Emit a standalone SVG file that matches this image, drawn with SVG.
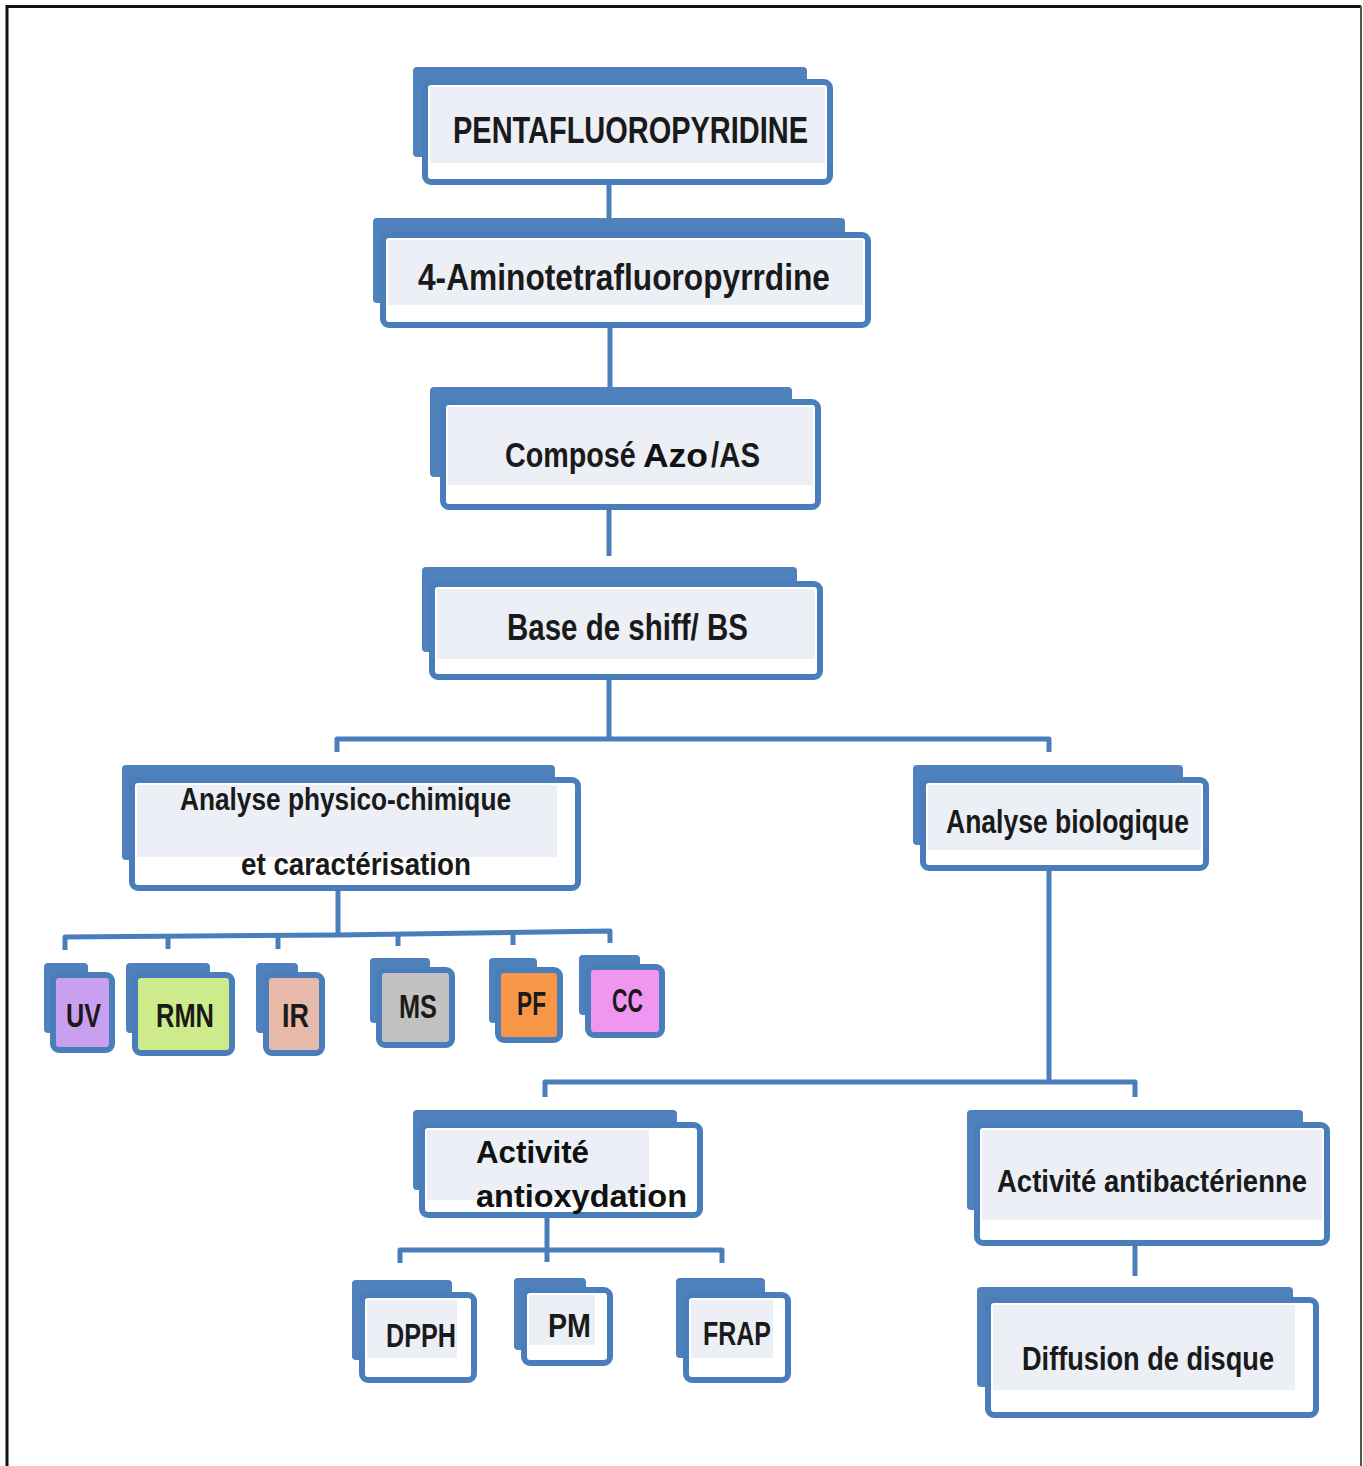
<svg xmlns="http://www.w3.org/2000/svg" width="1363" height="1466" viewBox="0 0 1363 1466">
  <style>
    .back { fill: #4f81bd; }
    .front { fill: #ffffff; stroke: #4a7ebb; stroke-width: 6; }
    .band { fill: #eceff5; }
    .lbl { font-family: "Liberation Sans Narrow", "Liberation Sans", Arial, sans-serif; font-weight: bold; fill: #1a1a1a; }
    .arial { font-family: "Liberation Sans", Arial, sans-serif; font-weight: bold; fill: #111111; }
    .conn { fill: none; stroke: #4a7ebb; stroke-width: 5; stroke-linejoin: round; }
    .frame { fill: none; stroke: #111111; stroke-width: 3; }
  </style>

  <rect width="1363" height="1466" fill="#ffffff"/>
  <!-- outer frame (open at the bottom) -->
  <path class="frame" d="M7,1466 V6.5 H1361"/>
  <line x1="1361" y1="6" x2="1361" y2="1466" stroke="#555555" stroke-width="2"/>

  <!-- connectors -->
  <g id="connectors" class="conn">
    <line x1="609" y1="182" x2="609" y2="220"/>
    <line x1="610" y1="325" x2="610" y2="389"/>
    <line x1="609" y1="508" x2="609" y2="556"/>
    <line x1="609" y1="677" x2="609" y2="739"/>
    <path d="M337,752 V739 H1049 V752"/>
    <line x1="338" y1="888" x2="338" y2="936"/>
    <path d="M65,950 V937 L338,935 L610,931 V943"/>
    <line x1="168" y1="936" x2="168" y2="949"/>
    <line x1="278" y1="936" x2="278" y2="949"/>
    <line x1="398" y1="934" x2="398" y2="946"/>
    <line x1="513" y1="932" x2="513" y2="945"/>
    <line x1="1049" y1="868" x2="1049" y2="1082"/>
    <path d="M545,1097 V1082 H1135 V1097"/>
    <line x1="547" y1="1215" x2="547" y2="1250"/>
    <path d="M400,1263 V1250 H722 V1263"/>
    <line x1="547" y1="1250" x2="547" y2="1262"/>
    <line x1="1135" y1="1243" x2="1135" y2="1276"/>
  </g>

  <g id="pentafluoropyridine">
    <rect class="back" x="413" y="67" width="394" height="90" rx="4"/>
    <rect class="front" x="425" y="82" width="405" height="100" rx="6"/>
    <rect class="band" x="430" y="87" width="395" height="76"/>
    <text class="lbl" x="453" y="143" font-size="36" textLength="355" lengthAdjust="spacingAndGlyphs">PENTAFLUOROPYRIDINE</text>
  </g>

  <g id="aminotetrafluoropyridine">
    <rect class="back" x="373" y="218" width="472" height="85" rx="4"/>
    <rect class="front" x="383" y="235" width="485" height="90" rx="6"/>
    <rect class="band" x="388" y="240" width="475" height="65"/>
    <text class="lbl" x="418" y="290" font-size="36" textLength="412" lengthAdjust="spacingAndGlyphs">4-Aminotetrafluoropyrrdine</text>
  </g>

  <g id="compose-azo">
    <rect class="back" x="430" y="387" width="362" height="90" rx="4"/>
    <rect class="front" x="443" y="402" width="375" height="105" rx="6"/>
    <rect class="band" x="448" y="407" width="365" height="78"/>
    <!-- condensed by a horizontal scale -->
    <text class="lbl" font-size="35" transform="translate(505,467) scale(0.82,1)">Composé</text>
    <text class="arial" x="643" y="467" font-size="33" textLength="65" lengthAdjust="spacingAndGlyphs">Azo</text>
    <text class="lbl" font-size="35" transform="translate(711,467) scale(0.84,1)">/AS</text>
  </g>

  <g id="base-de-shiff">
    <rect class="back" x="422" y="567" width="375" height="85" rx="4"/>
    <rect class="front" x="432" y="584" width="388" height="93" rx="6"/>
    <rect class="band" x="437" y="589" width="378" height="70"/>
    <text class="lbl" x="507" y="640" font-size="36" textLength="241" lengthAdjust="spacingAndGlyphs">Base de shiff/ BS</text>
  </g>

  <g id="analyse-physico-chimique">
    <rect class="back" x="122" y="765" width="433" height="95" rx="4"/>
    <rect class="front" x="132" y="780" width="446" height="108" rx="6"/>
    <rect class="band" x="137" y="785" width="420" height="72"/>
    <text class="lbl" x="180" y="810" font-size="32" textLength="331" lengthAdjust="spacingAndGlyphs">Analyse physico-chimique</text>
    <text class="lbl" x="241" y="875" font-size="32" textLength="230" lengthAdjust="spacingAndGlyphs">et caractérisation</text>
  </g>

  <g id="analyse-biologique">
    <rect class="back" x="913" y="765" width="270" height="80" rx="4"/>
    <rect class="front" x="923" y="780" width="283" height="88" rx="6"/>
    <rect class="band" x="928" y="785" width="273" height="65"/>
    <text class="lbl" x="946" y="833" font-size="34" textLength="243" lengthAdjust="spacingAndGlyphs">Analyse biologique</text>
  </g>

  <g id="uv">
    <rect class="back" x="44" y="963" width="44" height="70" rx="4"/>
    <rect class="front" x="53" y="975" width="59" height="75" rx="6" style="fill:#c9a0f0"/>
    <text class="lbl" x="66" y="1027" font-size="34" textLength="35" lengthAdjust="spacingAndGlyphs">UV</text>
  </g>

  <g id="rmn">
    <rect class="back" x="126" y="963" width="84" height="70" rx="4"/>
    <rect class="front" x="135" y="975" width="97" height="78" rx="6" style="fill:#cdeb8b"/>
    <text class="lbl" x="156" y="1027" font-size="34" textLength="58" lengthAdjust="spacingAndGlyphs">RMN</text>
  </g>

  <g id="ir">
    <rect class="back" x="256" y="963" width="42" height="70" rx="4"/>
    <rect class="front" x="266" y="975" width="56" height="78" rx="6" style="fill:#e6b9a9"/>
    <text class="lbl" x="282" y="1027" font-size="34" textLength="27" lengthAdjust="spacingAndGlyphs">IR</text>
  </g>

  <g id="ms">
    <rect class="back" x="370" y="958" width="60" height="65" rx="4"/>
    <rect class="front" x="379" y="970" width="73" height="75" rx="6" style="fill:#c2c2c2"/>
    <text class="lbl" x="399" y="1018" font-size="34" textLength="38" lengthAdjust="spacingAndGlyphs">MS</text>
  </g>

  <g id="pf">
    <rect class="back" x="489" y="958" width="48" height="65" rx="4"/>
    <rect class="front" x="498" y="970" width="62" height="70" rx="6" style="fill:#f79646"/>
    <text class="lbl" x="517" y="1015" font-size="34" textLength="29" lengthAdjust="spacingAndGlyphs">PF</text>
  </g>

  <g id="cc">
    <rect class="back" x="579" y="955" width="61" height="60" rx="4"/>
    <rect class="front" x="588" y="967" width="74" height="68" rx="6" style="fill:#f095f0"/>
    <text class="lbl" x="612" y="1012" font-size="34" textLength="31" lengthAdjust="spacingAndGlyphs">CC</text>
  </g>

  <g id="activite-antioxydation">
    <rect class="back" x="413" y="1110" width="264" height="80" rx="4"/>
    <rect class="front" x="422" y="1125" width="278" height="90" rx="6"/>
    <rect class="band" x="427" y="1130" width="222" height="70"/>
    <text class="arial" x="476" y="1163" font-size="31" textLength="113" lengthAdjust="spacingAndGlyphs">Activité</text>
    <text class="arial" x="476" y="1207" font-size="31" textLength="211" lengthAdjust="spacingAndGlyphs">antioxydation</text>
  </g>

  <g id="activite-antibacterienne">
    <rect class="back" x="967" y="1110" width="336" height="100" rx="4"/>
    <rect class="front" x="977" y="1125" width="350" height="118" rx="6"/>
    <rect class="band" x="982" y="1130" width="340" height="90"/>
    <text class="lbl" x="997" y="1192" font-size="32" textLength="310" lengthAdjust="spacingAndGlyphs">Activité antibactérienne</text>
  </g>

  <g id="diffusion-de-disque">
    <rect class="back" x="977" y="1287" width="316" height="100" rx="4"/>
    <rect class="front" x="988" y="1300" width="328" height="115" rx="6"/>
    <rect class="band" x="993" y="1305" width="302" height="85"/>
    <text class="lbl" x="1022" y="1370" font-size="34" textLength="252" lengthAdjust="spacingAndGlyphs">Diffusion  de disque</text>
  </g>

  <g id="dpph">
    <rect class="back" x="352" y="1280" width="100" height="80" rx="4"/>
    <rect class="front" x="362" y="1295" width="112" height="85" rx="6"/>
    <rect class="band" x="367" y="1300" width="90" height="58"/>
    <text class="lbl" x="386" y="1347" font-size="34" textLength="70" lengthAdjust="spacingAndGlyphs">DPPH</text>
  </g>

  <g id="pm">
    <rect class="back" x="514" y="1278" width="72" height="72" rx="4"/>
    <rect class="front" x="524" y="1290" width="86" height="73" rx="6"/>
    <rect class="band" x="529" y="1295" width="66" height="50"/>
    <text class="lbl" x="548" y="1337" font-size="34" textLength="43" lengthAdjust="spacingAndGlyphs">PM</text>
  </g>

  <g id="frap">
    <rect class="back" x="676" y="1278" width="89" height="80" rx="4"/>
    <rect class="front" x="686" y="1295" width="102" height="85" rx="6"/>
    <rect class="band" x="691" y="1300" width="82" height="58"/>
    <text class="lbl" x="703" y="1345" font-size="34" textLength="68" lengthAdjust="spacingAndGlyphs">FRAP</text>
  </g>
</svg>
